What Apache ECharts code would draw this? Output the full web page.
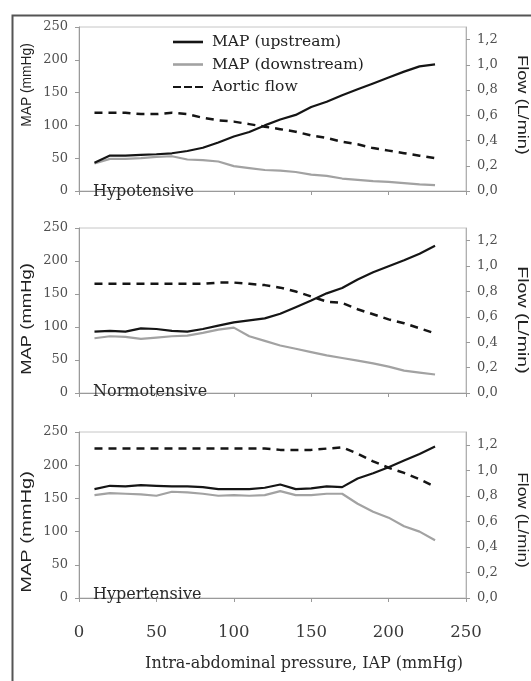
<!DOCTYPE html>
<html>
<head>
<meta charset="utf-8">
<script src="https://cdn.jsdelivr.net/npm/echarts@6/dist/echarts.min.js"></script>
<style>
html,body{margin:0;padding:0;background:#fff;}
#chart{width:531px;height:681px;}
</style>
</head>
<body>
<div id="chart"></div>
<script>
// ---- data ----
const iap = [10,20,30,40,50,60,70,80,90,100,110,120,130,140,150,160,170,180,190,200,210,220,230];
const seriesNames = ['MAP (upstream)', 'MAP (downstream)', 'Aortic flow'];
const panelNames = ['Hypotensive', 'Normotensive', 'Hypertensive'];

const hypoUp   = [43,54,54,55,56,57.5,61,66,74,83,90,100,109,116,128,136,146,155,164,173,182,190,193];
const hypoDown = [42,49,49,50,52,53,48,47,45,38,35,32,31,29,25,23,19,17,15,14,12,10,9];
const hypoFlow = [0.62,0.62,0.62,0.61,0.61,0.62,0.61,0.58,0.56,0.55,0.53,0.51,0.49,0.47,0.44,0.42,0.39,0.37,0.34,0.32,0.30,0.28,0.26];

const normoUp   = [93,94,93,98,97,94,93,97,102,107,110,113,120,130,140,151,159,172,183,192,201,211,223];
const normoDown = [83,86,85,82,84,86,87,91,96,99,86,79,72,67,62,57,53,49,45,40,34,31,28];
const normoFlow = [0.86,0.86,0.86,0.86,0.86,0.86,0.86,0.86,0.87,0.87,0.86,0.85,0.83,0.80,0.76,0.72,0.71,0.66,0.62,0.58,0.55,0.51,0.47];

const hyperUp   = [164,169,168,170,169,168,168,167,164,164,164,166,171,164,165,168,167,180,188,197,207,217,228];
const hyperDown = [155,158,157,156,154,160,159,157,154,155,154,155,161,155,155,157,157,142,130,121,108,100,87];
const hyperFlow = [1.17,1.17,1.17,1.17,1.17,1.17,1.17,1.17,1.17,1.17,1.17,1.17,1.16,1.16,1.16,1.17,1.18,1.13,1.07,1.02,0.98,0.93,0.87];

const xTicks = [0,50,100,150,200,250];
const mapTicks = [0,50,100,150,200,250];
const flowTicks = [0,0.2,0.4,0.6,0.8,1.0,1.2];
const flowMax = 1.3;

const panels = [
  {up: hypoUp, down: hypoDown, flow: hypoFlow},
  {up: normoUp, down: normoDown, flow: normoFlow},
  {up: hyperUp, down: hyperDown, flow: hyperFlow}
];

// ---- layout ----
const gridBoxes = [
  {top: 27, height: 164},
  {top: 228, height: 165},
  {top: 432, height: 166}
];
const gLeft = 79, gWidth = 387;
const serif = 'DejaVu Serif';
const sans = 'Liberation Sans';

const pair = (vals) => vals.map((v, i) => [iap[i], v]);

const grid = [], xAxis = [], yAxis = [], series = [];
gridBoxes.forEach((b, i) => {
  grid.push({left: gLeft, width: gWidth, top: b.top, height: b.height,
    show: true, borderColor: '#c6c6c6', borderWidth: 1, backgroundColor: 'transparent'});
  xAxis.push({type: 'value', gridIndex: i, min: 0, max: 250, interval: 50,
    axisLine: {show: true, onZero: false, lineStyle: {color: '#9a9a9a', width: 1}},
    axisTick: {show: true, inside: false, length: 4, lineStyle: {color: '#9a9a9a'}, customValues: xTicks},
    axisLabel: {show: i === 2, customValues: xTicks, margin: 26, fontFamily: serif, fontSize: 16.5, color: '#3a3a3a'},
    splitLine: {show: false}
  });
  yAxis.push({type: 'value', gridIndex: i, position: 'left', min: 0, max: 250, interval: 50,
    axisLine: {show: true, lineStyle: {color: '#9a9a9a', width: 1}},
    axisTick: {show: true, length: 4, lineStyle: {color: '#9a9a9a'}, customValues: mapTicks},
    axisLabel: {customValues: mapTicks, margin: 11, fontFamily: serif, fontSize: 13, color: '#505050'},
    splitLine: {show: false}
  });
  yAxis.push({type: 'value', gridIndex: i, position: 'right', min: 0, max: flowMax, interval: 0.2,
    axisLine: {show: true, lineStyle: {color: '#b0b0b0', width: 1}},
    axisTick: {show: true, length: 4, lineStyle: {color: '#9a9a9a'}, customValues: flowTicks},
    axisLabel: {customValues: flowTicks, margin: 11, fontFamily: serif, fontSize: 13, color: '#505050',
      formatter: (v) => (Math.abs(v / 0.2 - Math.round(v / 0.2)) < 1e-6 && v <= 1.2 + 1e-9) ? v.toFixed(1).replace('.', ',') : ''},
    splitLine: {show: false}
  });
  const p = panels[i];
  series.push({name: seriesNames[0], type: 'line', xAxisIndex: i, yAxisIndex: i * 2, data: pair(p.up),
    showSymbol: false, symbol: 'none', lineStyle: {color: '#151515', width: 2.2}, itemStyle: {color: '#151515'}, z: 4});
  series.push({name: seriesNames[1], type: 'line', xAxisIndex: i, yAxisIndex: i * 2, data: pair(p.down),
    showSymbol: false, symbol: 'none', lineStyle: {color: '#a2a2a2', width: 2.2}, itemStyle: {color: '#a2a2a2'}, z: 3});
  series.push({name: seriesNames[2], type: 'line', xAxisIndex: i, yAxisIndex: i * 2 + 1, data: pair(p.flow),
    showSymbol: false, symbol: 'none', lineStyle: {color: '#151515', width: 2.5, type: [8, 6]}, itemStyle: {color: '#151515'}, z: 5});
});

// ---- text placements ----
const panelLabelPos = [{x: 93, y: 191.5}, {x: 93, y: 392}, {x: 93, y: 595}];
const mapTitlePos = [{y: 85, s: 0.92}, {y: 319, s: 1.23}, {y: 532, s: 1.34}];
const flowTitlePos = [{y: 105, s: 1.21}, {y: 320, s: 1.3}, {y: 520, s: 1.16}];

const graphic = [
  {type: 'rect', left: 10, top: 13, shape: {x: 0, y: 0, width: 540, height: 700},
    style: {fill: 'none', stroke: '#555', lineWidth: 2}, silent: true, z: 0}
];
panelNames.forEach((name, i) => {
  graphic.push({type: 'text', x: panelLabelPos[i].x, y: panelLabelPos[i].y, z: 10,
    style: {text: name, font: '16px "' + serif + '"', fill: '#2a2a2a', textAlign: 'left', textVerticalAlign: 'middle'}});
  graphic.push({type: 'text', x: 27, y: mapTitlePos[i].y, rotation: Math.PI / 2, scaleX: mapTitlePos[i].s, z: 10,
    style: {text: 'MAP (mmHg)', font: '15px "' + sans + '"', fill: '#222', textAlign: 'center', textVerticalAlign: 'middle'}});
  graphic.push({type: 'text', x: 522, y: flowTitlePos[i].y, rotation: -Math.PI / 2, scaleX: flowTitlePos[i].s, z: 10,
    style: {text: 'Flow (L/min)', font: '15px "' + sans + '"', fill: '#222', textAlign: 'center', textVerticalAlign: 'middle'}});
});
graphic.push({type: 'text', x: 304, y: 664, z: 10,
  style: {text: 'Intra-abdominal pressure, IAP (mmHg)', font: '16px "' + serif + '"', fill: '#2a2a2a', textAlign: 'center', textVerticalAlign: 'middle'}});

const legendIcons = [
  'rect',
  'rect',
  'path://M0,0h8v2h-8z M11,0h8v2h-8z M22,0h8v2h-8z'
];

const chart = echarts.init(document.getElementById('chart'), null, {renderer: 'canvas'});
chart.setOption({
  animation: false,
  backgroundColor: '#fff',
  grid, xAxis, yAxis, series, graphic,
  legend: {
    data: seriesNames.map((n, k) => ({name: n, icon: legendIcons[k]})),
    orient: 'vertical', left: 168, top: 29,
    itemWidth: 30, itemHeight: 2.6, itemGap: 6.5,
    textStyle: {fontFamily: serif, fontSize: 15.5, color: '#222', padding: [0, 0, 0, 4]},
    selectedMode: false
  }
});
</script>
</body>
</html>
